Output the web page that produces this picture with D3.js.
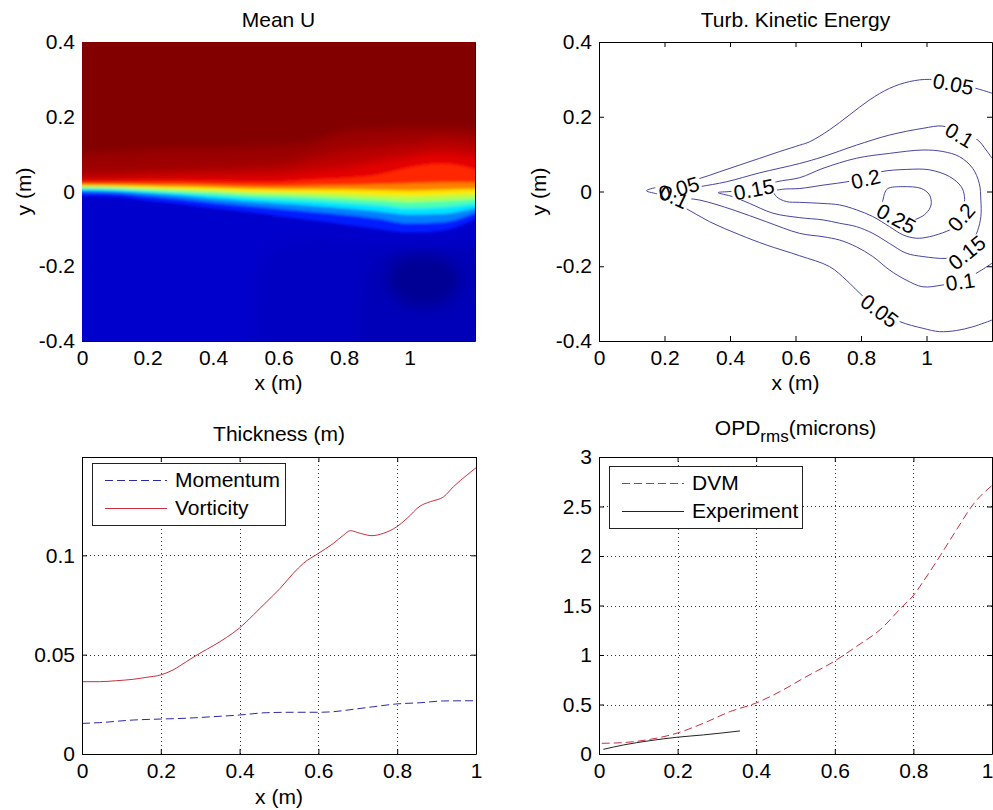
<!DOCTYPE html>
<html lang="en">
<head>
<meta charset="utf-8">
<title>Shear layer results</title>
<style>
  body { margin: 0; background: #fff; }
  svg { display: block; font-family: Arial, "Liberation Sans", Helvetica, sans-serif; }
  .tick text { font-size: 21px; fill: #000; }
  .domain, .tick line { stroke: #000; }
  .lbl { font-size: 21px; fill: #000; }
  .grid line { stroke: #333; stroke-dasharray: 1,3; }
</style>
</head>
<body>
<div id="chart"></div>
<script src="https://cdn.jsdelivr.net/npm/d3@7/dist/d3.min.js"></script>
<script>
// ---------- Mean U (colour index of the jet map, 0..1) ----------
var uStations = [0, 0.1, 0.2, 0.3, 0.4, 0.5, 0.6, 0.7, 0.8, 0.9, 1.0, 1.1, 1.2];
var uLevels = [0.1, 0.2, 0.3, 0.4, 0.5, 0.6, 0.7, 0.8, 0.875, 0.925, 0.96, 0.985];
// y (m) where the field crosses each level, one row per level, one value per station
var uCross = [
  [-0.012, -0.014, -0.025, -0.034, -0.045, -0.055, -0.066, -0.077, -0.088, -0.100, -0.110, -0.105, -0.075],
  [-0.002, -0.004, -0.012, -0.020, -0.030, -0.038, -0.046, -0.054, -0.062, -0.072, -0.085, -0.082, -0.058],
  [0.003, 0.001, -0.005, -0.011, -0.019, -0.026, -0.032, -0.038, -0.045, -0.053, -0.062, -0.060, -0.045],
  [0.007, 0.005, 0.000, -0.005, -0.010, -0.016, -0.021, -0.025, -0.031, -0.037, -0.045, -0.042, -0.033],
  [0.010, 0.009, 0.005, 0.001, -0.003, -0.008, -0.011, -0.014, -0.018, -0.023, -0.028, -0.025, -0.020],
  [0.014, 0.013, 0.010, 0.007, 0.004, 0.000, -0.002, -0.004, -0.006, -0.010, -0.012, -0.010, -0.007],
  [0.018, 0.017, 0.015, 0.013, 0.011, 0.008, 0.006, 0.006, 0.006, 0.004, 0.003, 0.005, 0.007],
  [0.022, 0.022, 0.021, 0.020, 0.018, 0.016, 0.015, 0.017, 0.018, 0.020, 0.022, 0.025, 0.025],
  [0.030, 0.030, 0.030, 0.030, 0.028, 0.027, 0.027, 0.032, 0.036, 0.045, 0.065, 0.075, 0.060],
  [0.036, 0.037, 0.040, 0.042, 0.042, 0.043, 0.045, 0.055, 0.065, 0.080, 0.095, 0.105, 0.095],
  [0.045, 0.048, 0.052, 0.056, 0.060, 0.065, 0.070, 0.090, 0.110, 0.120, 0.130, 0.140, 0.130],
  [0.100, 0.105, 0.110, 0.115, 0.115, 0.118, 0.120, 0.130, 0.160, 0.165, 0.170, 0.170, 0.165]
];
var uBase = 0.075;   // free stream below the layer
var uTop = 0.998;    // free stream above the layer
// darker patches in the slow stream (outlines run past the frame)
var uPatchLevel = [0.066, 0.055, 0.02];
var uPatches = [
  [[0.52, -0.46], [0.525, -0.3], [0.54, -0.2], [0.58, -0.15], [0.66, -0.125], [0.78, -0.125], [0.9, -0.14], [1.05, -0.145], [1.26, -0.13], [1.26, -0.46]],
  [[0.84, -0.46], [0.85, -0.25], [0.88, -0.18], [0.95, -0.15], [1.08, -0.15], [1.26, -0.14], [1.26, -0.46]],
  [[0.93, -0.23], [0.96, -0.185], [1.03, -0.168], [1.11, -0.18], [1.155, -0.225], [1.13, -0.285], [1.05, -0.31], [0.97, -0.29]]
];

// ---------- Turbulent kinetic energy contours ----------
var tke05 = [[1.2, 0.263], [1.151, 0.276], [1.082, 0.29], [1.009, 0.300], [0.948, 0.294], [0.887, 0.276], [0.826, 0.245],
  [0.765, 0.205], [0.704, 0.165], [0.643, 0.133], [0.613, 0.124], [0.552, 0.107], [0.491, 0.089], [0.430, 0.071],
  [0.369, 0.053], [0.308, 0.035], [0.24, 0.022], [0.18, 0.012], [0.145, 0.002], [0.186, -0.009], [0.257, -0.041],
  [0.338, -0.081], [0.430, -0.116], [0.511, -0.143], [0.613, -0.172], [0.704, -0.201], [0.755, -0.237], [0.796, -0.272],
  [0.857, -0.319], [0.918, -0.348], [0.989, -0.366], [1.040, -0.375], [1.091, -0.372], [1.141, -0.362], [1.2, -0.344]];
var tke10 = [[1.2, 0.089], [1.182, 0.111], [1.156, 0.138], [1.10, 0.158], [1.050, 0.175], [0.989, 0.169], [0.887, 0.151],
  [0.786, 0.124], [0.684, 0.093], [0.613, 0.075], [0.491, 0.050], [0.389, 0.026], [0.308, 0.013], [0.25, 0.005],
  [0.20, -0.003], [0.24, -0.015], [0.308, -0.023], [0.409, -0.049], [0.511, -0.081], [0.613, -0.112], [0.684, -0.121],
  [0.735, -0.130], [0.786, -0.148], [0.836, -0.174], [0.887, -0.210], [0.938, -0.237], [0.989, -0.255], [1.050, -0.250],
  [1.102, -0.241], [1.161, -0.214], [1.2, -0.192]];
var tke15 = [[0.364, -0.003], [0.40, 0.0], [0.473, 0.007], [0.542, 0.026], [0.613, 0.037], [0.684, 0.062], [0.786, 0.089],
  [0.887, 0.102], [0.989, 0.111], [1.050, 0.107], [1.101, 0.093], [1.141, 0.062], [1.161, 0.022], [1.166, -0.023],
  [1.166, -0.067], [1.156, -0.105], [1.135, -0.145], [1.10, -0.172], [1.060, -0.179], [0.989, -0.174], [0.938, -0.165],
  [0.887, -0.139], [0.836, -0.112], [0.786, -0.094], [0.735, -0.085], [0.684, -0.076], [0.613, -0.070], [0.531, -0.058],
  [0.460, -0.032], [0.409, -0.014]];
var tke20 = [[0.534, 0.0], [0.56, 0.006], [0.613, 0.008], [0.684, 0.017], [0.770, 0.028], [0.814, 0.038], [0.862, 0.053],
  [0.938, 0.059], [1.009, 0.058], [1.070, 0.040], [1.106, 0.013], [1.116, -0.014], [1.113, -0.045], [1.098, -0.078],
  [1.080, -0.098], [1.060, -0.107], [1.009, -0.121], [0.969, -0.125], [0.928, -0.116], [0.887, -0.094], [0.836, -0.067],
  [0.786, -0.049], [0.735, -0.036], [0.684, -0.032], [0.613, -0.029], [0.572, -0.027], [0.542, -0.014]];
var tke25 = [[0.86, -0.04], [0.867, -0.023], [0.872, -0.005], [0.882, 0.008], [0.928, 0.013], [0.984, 0.008], [1.009, -0.009],
  [1.014, -0.036], [0.999, -0.058], [0.974, -0.072], [0.94, -0.08], [0.90, -0.07]];
// contour labels: text, x, y, angle
var tkeLabels = [
  ["0.05", 1.082, 0.288, 11], ["0.05", 0.857, -0.319, 37], ["0.05", 0.244, 0.008, -16],
  ["0.1", 1.101, 0.151, 31], ["0.1", 1.103, -0.241, -8], ["0.1", 0.229, -0.014, 25],
  ["0.15", 0.473, 0.006, -11], ["0.15", 1.123, -0.163, -39],
  ["0.2", 0.814, 0.034, -13], ["0.2", 1.106, -0.069, -49],
  ["0.25", 0.908, -0.072, 28]
];

// ---------- Thickness ----------
var thickX = [0, 0.045, 0.087, 0.130, 0.164, 0.200, 0.231, 0.265, 0.299, 0.333, 0.367, 0.399, 0.435, 0.469, 0.503,
  0.536, 0.562, 0.600, 0.638, 0.664, 0.681, 0.706, 0.736, 0.765, 0.799, 0.825, 0.858, 0.884, 0.918, 0.943, 0.977, 1.0];
var vorticity = [0.0364, 0.0364, 0.0369, 0.0376, 0.0386, 0.0398, 0.0423, 0.0465, 0.0507, 0.0545, 0.0587, 0.0633, 0.0700,
  0.0767, 0.0834, 0.0909, 0.0960, 0.1010, 0.1060, 0.1102, 0.1124, 0.1111, 0.1099, 0.1111, 0.1144, 0.1186, 0.1248,
  0.1270, 0.1295, 0.1346, 0.1404, 0.1441];
var momX = [0, 0.045, 0.130, 0.200, 0.265, 0.333, 0.399, 0.469, 0.536, 0.600, 0.638, 0.689, 0.740, 0.799, 0.858, 0.918, 1.0];
var momentum = [0.0154, 0.0158, 0.0171, 0.0176, 0.0180, 0.0188, 0.0196, 0.0208, 0.0210, 0.0210, 0.0213, 0.0225,
  0.0238, 0.0252, 0.0258, 0.0267, 0.0268];

// ---------- OPD rms ----------
var dvmX = [0.007, 0.062, 0.121, 0.198, 0.266, 0.334, 0.399, 0.461, 0.529, 0.599, 0.656, 0.716, 0.775, 0.799, 0.826,
  0.868, 0.911, 0.953, 1.0];
var dvm = [0.108, 0.115, 0.142, 0.210, 0.311, 0.429, 0.514, 0.632, 0.785, 0.937, 1.089, 1.258, 1.502, 1.596, 1.748,
  2.002, 2.273, 2.526, 2.712];
var expX = [0.011, 0.062, 0.130, 0.198, 0.266, 0.359];
var experiment = [0.047, 0.091, 0.135, 0.169, 0.193, 0.233];

var xTicks = [0, 0.2, 0.4, 0.6, 0.8, 1];
var yTicksField = [-0.4, -0.2, 0, 0.2, 0.4];
var yTicksThick = [0, 0.05, 0.1];
var yTicksOpd = [0, 0.5, 1, 1.5, 2, 2.5, 3];

// ---------- drawing ----------
var W = 993, H = 810;
var svg = d3.select("#chart").append("svg").attr("width", W).attr("height", H);
var defs = svg.append("defs");

var fmt = function(d) { return String(+d.toFixed(2)); };
var jet = d3.scaleLinear()
  .domain([0, 0.125, 0.375, 0.625, 0.875, 1])
  .range(["#000080", "#0000ff", "#00ffff", "#ffff00", "#ff0000", "#800000"]);

function frame(g, x, y, xt, yt) {
  var h = y.range()[0], w = x.range()[1];
  var bottom = g.append("g").attr("transform", "translate(0," + h + ")")
    .call(d3.axisBottom(x).tickValues(xt).tickFormat(fmt).tickSizeInner(-5).tickSizeOuter(0).tickPadding(9));
  g.append("g")
    .call(d3.axisTop(x).tickValues(xt).tickFormat("").tickSizeInner(-5).tickSizeOuter(0));
  g.append("g")
    .call(d3.axisLeft(y).tickValues(yt).tickFormat(fmt).tickSizeInner(-5).tickSizeOuter(0).tickPadding(7));
  g.append("g").attr("transform", "translate(" + w + ",0)")
    .call(d3.axisRight(y).tickValues(yt).tickFormat("").tickSizeInner(-5).tickSizeOuter(0));
  return bottom;
}

function label(txt, x, y, rot) {
  var t = svg.append("text").attr("class", "lbl").attr("text-anchor", "middle").text(txt);
  if (rot) t.attr("transform", "translate(" + x + "," + y + ") rotate(" + rot + ")");
  else t.attr("x", x).attr("y", y);
  return t;
}

// ---- panel 1: Mean U ----
var p1 = { left: 82, top: 42, w: 393, h: 299 };
var g1 = svg.append("g").attr("transform", "translate(" + p1.left + "," + p1.top + ")");
var x1 = d3.scaleLinear().domain([0, 1.2]).range([0, p1.w]);
var y1 = d3.scaleLinear().domain([-0.4, 0.4]).range([p1.h, 0]);
frame(g1, x1, y1, xTicks, yTicksField);

function blur(id, sd) {
  defs.append("filter").attr("id", id)
    .attr("filterUnits", "userSpaceOnUse")
    .attr("x", -30).attr("y", -30).attr("width", p1.w + 60).attr("height", p1.h + 60)
    .append("feGaussianBlur").attr("stdDeviation", sd);
}
blur("soft", "7 7");
blur("smooth", "0 1.8");
blur("mellow", "0 5");
defs.append("clipPath").attr("id", "clip1")
  .append("rect").attr("width", p1.w).attr("height", p1.h);

var field = g1.append("g").attr("clip-path", "url(#clip1)");
field.append("rect").attr("width", p1.w).attr("height", p1.h).attr("fill", jet(uBase));

var patchLine = d3.line().x(function(d) { return x1(d[0]); }).y(function(d) { return y1(d[1]); });
var patchG = field.append("g").attr("filter", "url(#soft)");
uPatches.forEach(function(pts, i) {
  patchG.append("path")
    .attr("d", patchLine.curve(i === 2 ? d3.curveCatmullRomClosed : d3.curveLinearClosed)(pts))
    .attr("fill", jet(uPatchLevel[i]));
});

var band = d3.area()
  .x(function(d) { return x1(d.x); })
  .y0(y1(0.46))
  .y1(function(d) { return y1(d.y); })
  .curve(d3.curveMonotoneX);
var lowBands = field.append("g").attr("filter", "url(#smooth)");
var highBands = field.append("g").attr("filter", "url(#mellow)");
uLevels.forEach(function(lv, k) {
  var pts = uStations.map(function(s, j) { return { x: s, y: uCross[k][j] }; });
  var c = k < uLevels.length - 1 ? (lv + uLevels[k + 1]) / 2 : uTop;
  (lv > 0.9 ? highBands : lowBands).append("path").attr("d", band(pts)).attr("fill", jet(c));
});

label("Mean U", p1.left + p1.w / 2, 27);
label("x (m)", p1.left + p1.w / 2, 390);
label("y (m)", 31, p1.top + p1.h / 2, -90);

// ---- panel 2: TKE ----
var p2 = { left: 599, top: 42, w: 393, h: 299 };
var g2 = svg.append("g").attr("transform", "translate(" + p2.left + "," + p2.top + ")");
var x2 = d3.scaleLinear().domain([0, 1.2]).range([0, p2.w]);
var y2 = d3.scaleLinear().domain([-0.4, 0.4]).range([p2.h, 0]);

var cline = d3.line().x(function(d) { return x2(d[0]); }).y(function(d) { return y2(d[1]); });
var contours = g2.append("g").attr("fill", "none").attr("stroke", "#4646a0").attr("stroke-width", 1);
[[tke05, false], [tke10, false], [tke15, true], [tke20, true], [tke25, true]].forEach(function(c) {
  contours.append("path")
    .attr("d", cline.curve(c[1] ? d3.curveCatmullRomClosed : d3.curveCatmullRom)(c[0]));
});

var boxLayer = g2.append("g");
var textLayer = g2.append("g");
tkeLabels.forEach(function(l) {
  var tr = "translate(" + x2(l[1]) + "," + y2(l[2]) + ") rotate(" + l[3] + ")";
  var t = textLayer.append("text").attr("class", "lbl").attr("transform", tr)
    .attr("text-anchor", "middle").attr("dy", "0.36em").text(l[0]);
  var tw = t.node().getComputedTextLength();
  boxLayer.append("rect").attr("transform", tr)
    .attr("x", -tw / 2 - 2).attr("y", -8).attr("width", tw + 4).attr("height", 16)
    .attr("fill", "#fff");
});
frame(g2, x2, y2, xTicks, yTicksField);

label("Turb. Kinetic Energy", p2.left + p2.w / 2, 27);
label("x (m)", p2.left + p2.w / 2, 390);
label("y (m)", 546, p2.top + p2.h / 2, -90);

// ---- panel 3: thickness ----
var p3 = { left: 82, top: 457, w: 394, h: 297 };
var g3 = svg.append("g").attr("transform", "translate(" + p3.left + "," + p3.top + ")");
var x3 = d3.scaleLinear().domain([0, 1]).range([0, p3.w]);
var y3 = d3.scaleLinear().domain([0, 0.1495]).range([p3.h, 0]);

function grid(g, x, y, xt, yt) {
  var gg = g.append("g").attr("class", "grid");
  gg.selectAll(".gx").data(xt.slice(1, -1)).enter().append("line")
    .attr("x1", function(d) { return Math.round(x(d)) + 0.5; })
    .attr("x2", function(d) { return Math.round(x(d)) + 0.5; })
    .attr("y1", y.range()[0]).attr("y2", y.range()[1]);
  gg.selectAll(".gy").data(yt.slice(1)).enter().append("line")
    .attr("y1", function(d) { return Math.round(y(d)) + 0.5; })
    .attr("y2", function(d) { return Math.round(y(d)) + 0.5; })
    .attr("x1", x.range()[0]).attr("x2", x.range()[1]);
}
grid(g3, x3, y3, xTicks, yTicksThick);

var l3 = function(xs) {
  return d3.line().x(function(d, i) { return x3(xs[i]); }).y(function(d) { return y3(d); }).curve(d3.curveMonotoneX);
};
g3.append("path").attr("d", l3(momX)(momentum)).attr("fill", "none")
  .attr("stroke", "#2a2aa6").attr("stroke-width", 1).attr("stroke-dasharray", "8,4");
g3.append("path").attr("d", l3(thickX)(vorticity)).attr("fill", "none")
  .attr("stroke", "#c8303e").attr("stroke-width", 1);
frame(g3, x3, y3, xTicks, yTicksThick);

function legend(g, x0, y0, w, h, items) {
  var lg = g.append("g").attr("transform", "translate(" + x0 + "," + y0 + ")");
  lg.append("rect").attr("x", 0.5).attr("y", 0.5).attr("width", w).attr("height", h)
    .attr("fill", "#fff").attr("stroke", "#222");
  items.forEach(function(it, i) {
    var yy = 17 + i * 28;
    lg.append("line").attr("x1", 13).attr("x2", 75).attr("y1", yy + 0.5).attr("y2", yy + 0.5)
      .attr("stroke", it.color).attr("stroke-dasharray", it.dash || null);
    lg.append("text").attr("class", "lbl").attr("x", 83).attr("y", yy).attr("dy", "0.35em").text(it.name);
  });
}
legend(g3, 10, 6, 193, 62, [
  { name: "Momentum", color: "#2a2aa6", dash: "8,4" },
  { name: "Vorticity", color: "#c8303e" }
]);

label("Thickness (m)", p3.left + p3.w / 2, 441);
label("x (m)", p3.left + p3.w / 2, 804);

// ---- panel 4: OPD ----
var p4 = { left: 599, top: 457, w: 393, h: 297 };
var g4 = svg.append("g").attr("transform", "translate(" + p4.left + "," + p4.top + ")");
var x4 = d3.scaleLinear().domain([0, 1]).range([0, p4.w]);
var y4 = d3.scaleLinear().domain([0, 3]).range([p4.h, 0]);
grid(g4, x4, y4, xTicks, yTicksOpd.slice(0, -1));

var l4 = function(xs) {
  return d3.line().x(function(d, i) { return x4(xs[i]); }).y(function(d) { return y4(d); }).curve(d3.curveMonotoneX);
};
g4.append("path").attr("d", l4(dvmX)(dvm)).attr("fill", "none")
  .attr("stroke", "#c8303e").attr("stroke-width", 1).attr("stroke-dasharray", "8,4");
g4.append("path").attr("d", l4(expX)(experiment)).attr("fill", "none")
  .attr("stroke", "#222").attr("stroke-width", 1);
var bottom4 = frame(g4, x4, y4, xTicks, yTicksOpd);
// last label sits on the window edge: keep it inside
bottom4.selectAll(".tick text").filter(function(d) { return d === 1; })
  .attr("text-anchor", "end").attr("x", 1);
legend(g4, 10, 9, 193, 62, [
  { name: "DVM", color: "#c8303e", dash: "8,4" },
  { name: "Experiment", color: "#222" }
]);

var t4 = svg.append("text").attr("class", "lbl").attr("text-anchor", "middle")
  .attr("x", p4.left + p4.w / 2).attr("y", 435);
t4.append("tspan").text("OPD");
t4.append("tspan").attr("dy", 7).style("font-size", "17px").text("rms");
t4.append("tspan").attr("dy", -7).text("(microns)");
</script>
</body>
</html>
